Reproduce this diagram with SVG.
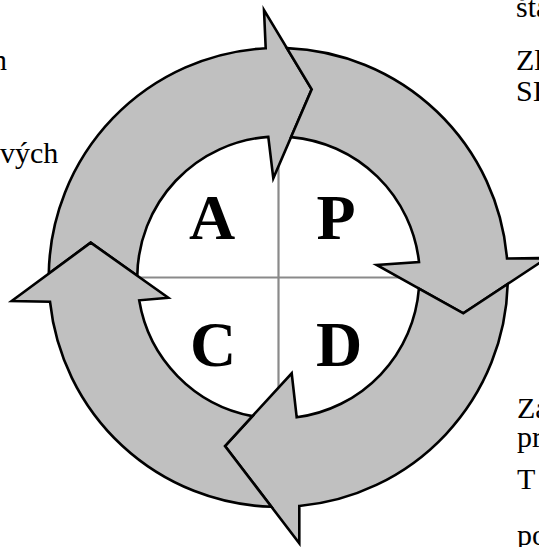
<svg xmlns="http://www.w3.org/2000/svg" width="539" height="547" viewBox="0 0 539 547">
<style>
.arrow{fill:#c0c0c0;stroke:#000;stroke-width:2.6;stroke-linejoin:miter;stroke-miterlimit:10}
.cross{stroke:#8a8a8a;stroke-width:2.2;fill:none}
.big{font-family:"Liberation Serif","Times New Roman",serif;font-weight:bold;font-size:64px;fill:#000;text-anchor:middle}
.side{font-family:"Liberation Serif","Times New Roman",serif;font-size:30px;fill:#000}
</style>
<rect x="0" y="0" width="539" height="547" fill="#fff"/>
<g id="side-text">
<text class="side" x="-8" y="70">n</text>
<text class="side" x="0" y="163">vých</text>
<text class="side" x="516" y="17">šta</text>
<text class="side" x="516" y="70">Zl</text>
<text class="side" x="516" y="101">SI</text>
<text class="side" x="517" y="418">Za</text>
<text class="side" x="517" y="447">pr</text>
<text class="side" x="517" y="489">T</text>
<text class="side" x="517" y="545">po</text>
</g>
<g id="cross">
<line class="cross" x1="278.5" y1="137" x2="278.5" y2="418"/>
<line class="cross" x1="137" y1="277.5" x2="420" y2="277.5"/>
</g>
<g id="connectors">
<path id="arrow-1" class="arrow" d="M48.8,273.6 A229.5,229.5 0 0 1 265.7,48.2 L264,10 L311.7,89.3 L273.3,178.3 L268.3,136.9 A141,141 0 0 0 137.3,275.7 L90.7,242.7 Z"/>
<path id="arrow-2" class="arrow" d="M286.9,48.1 A229.5,229.5 0 0 1 507,258.5 L547,258 L463.3,313.3 L376.7,265 L419,262 A141,141 0 0 0 291.1,137.1 L311.7,89.3 Z"/>
<path id="arrow-3" class="arrow" d="M507.7,284 A229.5,229.5 0 0 1 299.3,506 L299.3,543.3 L225,446 L291.7,373.3 L296.7,417.3 A141,141 0 0 0 418.9,288.5 L463.3,313.3 Z"/>
<path id="arrow-4" class="arrow" d="M271.4,506.8 A229.5,229.5 0 0 1 50,301.7 L11.7,301 L90.7,242.7 L168.3,297.7 L139.2,300.3 A141,141 0 0 0 252.4,416.1 L225,446 Z"/>
</g>
<g id="node-A"><text class="big" x="212" y="239">A</text></g>
<g id="node-P"><text class="big" x="336" y="239">P</text></g>
<g id="node-C"><text class="big" x="213" y="366">C</text></g>
<g id="node-D"><text class="big" x="339" y="366">D</text></g>
</svg>
